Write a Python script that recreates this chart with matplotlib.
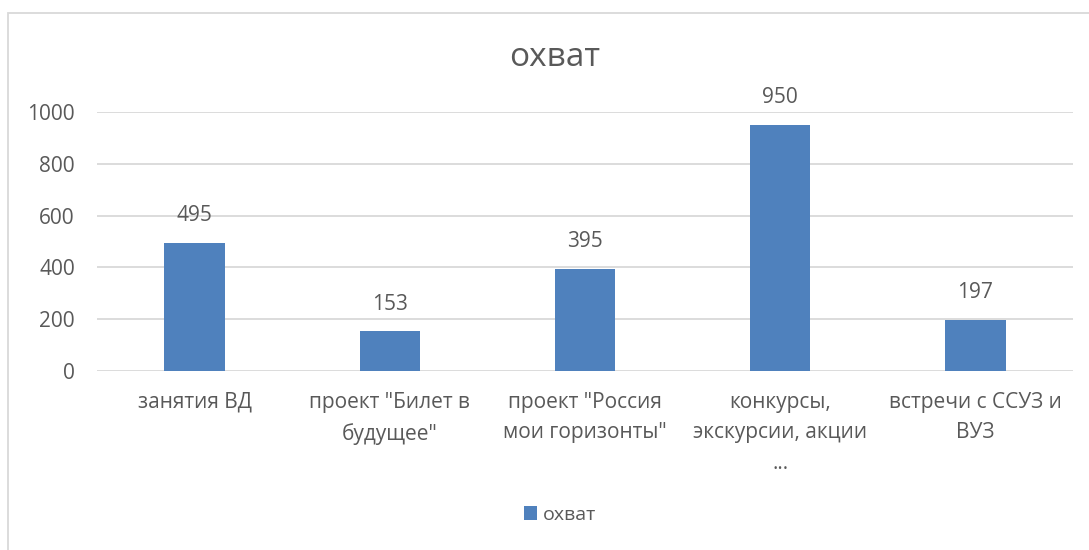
import matplotlib.pyplot as plt
from matplotlib.patches import Rectangle

plt.rcParams['font.family'] = ['Open Sans', 'DejaVu Sans']

categories = ['занятия ВД', 'проект "Билет в\nбудущее"', 'проект "Россия\nмои горизонты"',
              'конкурсы,\nэкскурсии, акции\n...', 'встречи с ССУЗ и\nВУЗ']
values = [495, 153, 395, 950, 197]
yticks = [0, 200, 400, 600, 800, 1000]

text_color = '#595959'
bar_color = '#4f81bd'
grid_color = '#d9d9d9'

fig = plt.figure(figsize=(10.89, 5.5), dpi=100)
ax = fig.add_axes([97 / 1089, 1 - 371 / 550, (1073 - 97) / 1089, (371 - 112) / 550])

x = range(len(values))
bars = ax.bar(x, values, width=0.31, color=bar_color, label='охват', zorder=3)

# data labels
for i, v in enumerate(values):
    ax.annotate(str(v), (i, v), xytext=(0, 12), textcoords='offset points',
                ha='center', va='bottom', fontsize=15, color=text_color)

ax.set_xlim(-0.5, len(values) - 0.5)
ax.set_ylim(0, 1000)
ax.set_yticks(yticks)
ax.set_yticklabels([str(t) for t in yticks], fontsize=15, color=text_color)
ax.set_xticks(list(x))
ax.set_xticklabels(categories, fontsize=15, color=text_color, linespacing=1.6)
ax.tick_params(axis='both', length=0)
ax.tick_params(axis='y', pad=16)
ax.tick_params(axis='x', pad=15)
ax.grid(axis='y', color=grid_color, linewidth=1.3, zorder=0)
for s in ax.spines.values():
    s.set_visible(False)

fig.text(555 / 1089, 1 - 58 / 550, 'охват', ha='center', va='center', fontsize=24, color=text_color)

fig.legend(handles=[bars], labels=['охват'], loc='center', bbox_to_anchor=(560 / 1089, 1 - 515 / 550),
           frameon=False, fontsize=14, labelcolor=text_color, handlelength=0.7, handleheight=0.7,
           handletextpad=0.3)

# chart border
fig.patches.append(Rectangle((8 / 1089, -0.1), 1.2, 1 - 13 / 550 + 0.1, transform=fig.transFigure,
                             fill=False, edgecolor='#d9d9d9', linewidth=1.3))

fig.savefig('out.png', dpi=100)
